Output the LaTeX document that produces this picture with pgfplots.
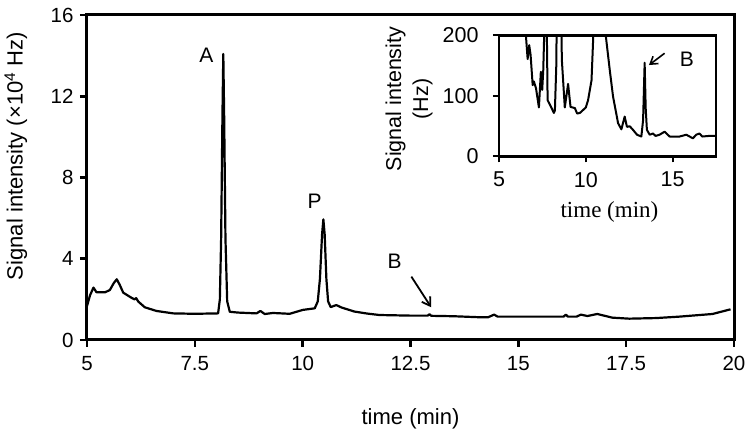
\documentclass[border=0pt]{standalone}
\usepackage{pgfplots}
\pgfplotsset{compat=1.18}
\usepackage{fontspec}
\setmainfont{Liberation Sans}
\newfontfamily\seriffont{Liberation Serif}
\usetikzlibrary{arrows.meta}
\begin{document}
\begin{tikzpicture}
\useasboundingbox (-87pt,-93pt) rectangle (669pt,340pt);
\begin{axis}[
  at={(0pt,0pt)}, anchor=south west,
  scale only axis, width=647pt, height=325pt,
  xmin=5, xmax=20, ymin=0, ymax=16,
  xtick={5,7.5,10,12.5,15,17.5,20},
  xticklabels={5,7.5,10,12.5,15,17.5,20},
  ytick={0,4,8,12,16},
  xtick pos=bottom, ytick pos=left,
  tick align=outside,
  major tick length=7pt,
  every tick/.style={black, line width=2.6pt},
  axis line style={line width=3pt},
  /pgf/number format/assume math mode=true,
  tick label style={font=\fontsize{20.5}{20.5}\selectfont},
  xticklabel style={yshift=-6pt},
  yticklabel style={xshift=-3pt},
  label style={font=\fontsize{22}{22}\selectfont},
  xlabel={time (min)},
  ylabel={Signal intensity (×10\textsuperscript{4} Hz)},
  xlabel style={at={(axis description cs:0.5,-0.243)}, anchor=center},
  ylabel style={font=\fontsize{22}{22}\selectfont, at={(axis description cs:-0.11,0.566)}, anchor=center},
]
\addplot[black, line width=2.2pt, line join=round] coordinates {
(5.00,1.67) (5.07,2.2) (5.15,2.58) (5.22,2.35) (5.42,2.35) (5.53,2.46)
(5.62,2.8) (5.69,2.99) (5.76,2.71) (5.84,2.33) (6.03,2.08) (6.10,2.0)
(6.14,2.06) (6.19,1.89) (6.34,1.61) (6.61,1.43) (7.00,1.31) (7.50,1.29)
(8.04,1.31) (8.08,2.0) (8.11,5) (8.14,11) (8.16,14.08) (8.18,11) (8.21,5)
(8.25,1.9) (8.31,1.39) (8.50,1.35) (8.93,1.31) (9.02,1.43) (9.12,1.28)
(9.31,1.33) (9.70,1.29) (10.00,1.48) (10.28,1.56) (10.35,1.9) (10.40,3.0)
(10.45,5.2) (10.48,5.94) (10.51,5.2) (10.55,3.0) (10.59,1.9) (10.65,1.62)
(10.78,1.72) (10.9,1.6) (11.2,1.4) (11.5,1.3) (11.78,1.23) (12.5,1.2)
(12.9,1.2) (12.94,1.27) (12.98,1.19) (13.5,1.17) (14.1,1.12) (14.3,1.12)
(14.44,1.25) (14.52,1.15) (15.0,1.15) (16.05,1.15) (16.1,1.25) (16.15,1.15)
(16.35,1.15) (16.45,1.25) (16.6,1.18) (16.83,1.28) (17.18,1.1) (17.57,1.05)
(18.2,1.08) (18.73,1.15) (19.5,1.28) (19.92,1.51)
};
\node[font=\fontsize{21}{21}\selectfont] at (axis cs:7.77,14.03) {A};
\node[font=\fontsize{21}{21}\selectfont] at (axis cs:10.28,6.81) {P};
\node[font=\fontsize{21}{21}\selectfont] at (axis cs:12.13,3.86) {B};
\draw[line width=1.8pt, -{Straight Barb[length=8pt,width=10pt]}] (axis cs:12.52,3.12) -- (axis cs:12.98,1.61);
\end{axis}
\begin{axis}[
  at={(412pt,183.5pt)}, anchor=south west,
  scale only axis, width=217pt, height=121pt,
  xmin=5, xmax=17.5, ymin=0, ymax=200,
  xtick={5,10,15}, ytick={0,100,200},
  xtick pos=bottom, ytick pos=left,
  tick align=outside,
  major tick length=6pt,
  every tick/.style={black, line width=2pt},
  axis line style={line width=2.2pt},
  /pgf/number format/assume math mode=true,
  tick label style={font=\fontsize{21.5}{21.5}\selectfont},
  xticklabel style={yshift=-6pt},
  yticklabel style={xshift=-11pt},
  xlabel={\seriffont time (min)},
  ylabel={Signal intensity\\(Hz)},
  xlabel style={font=\fontsize{23}{23}\selectfont, at={(axis description cs:0.509,-0.459)}, anchor=center},
  ylabel style={font=\fontsize{21.5}{27}\selectfont, align=center, at={(axis description cs:-0.415,0.475)}, anchor=center},
]
\addplot[black, line width=2pt, line join=round] coordinates {
(6.45,300) (6.55,200) (6.65,161) (6.74,184) (6.82,168) (6.94,118) (7.01,124)
(7.13,113) (7.30,81) (7.41,140) (7.49,110) (7.55,143) (7.62,220) (7.66,300)
(7.72,300) (7.80,93) (8.03,80) (8.16,72) (8.22,76) (8.30,150) (8.35,300)
(8.56,300) (8.62,160) (8.79,81) (8.98,120) (9.12,82) (9.37,80) (9.50,71)
(9.66,72) (9.85,77) (10.00,81) (10.13,93) (10.33,126) (10.46,220) (10.55,300)
(11.05,300) (11.15,200) (11.38,143) (11.57,99) (11.86,55) (12.05,45) (12.24,66)
(12.37,49) (12.53,50) (12.72,44) (12.95,36) (13.20,33) (13.30,60) (13.39,155)
(13.45,80) (13.52,44) (13.68,36) (13.87,38) (14.02,34) (14.25,36) (14.54,41)
(14.83,33) (15.40,33) (15.79,36) (16.17,30) (16.36,36) (16.55,38) (16.71,33)
(17.10,34) (17.51,34)
};
\node[font=\fontsize{21}{21}\selectfont] at (axis cs:15.82,160.7) {B};
\draw[line width=1.6pt, -{Straight Barb[length=7pt,width=9pt]}] (axis cs:14.54,170.6) -- (axis cs:13.64,151.2);
\end{axis}
\end{tikzpicture}
\end{document}
